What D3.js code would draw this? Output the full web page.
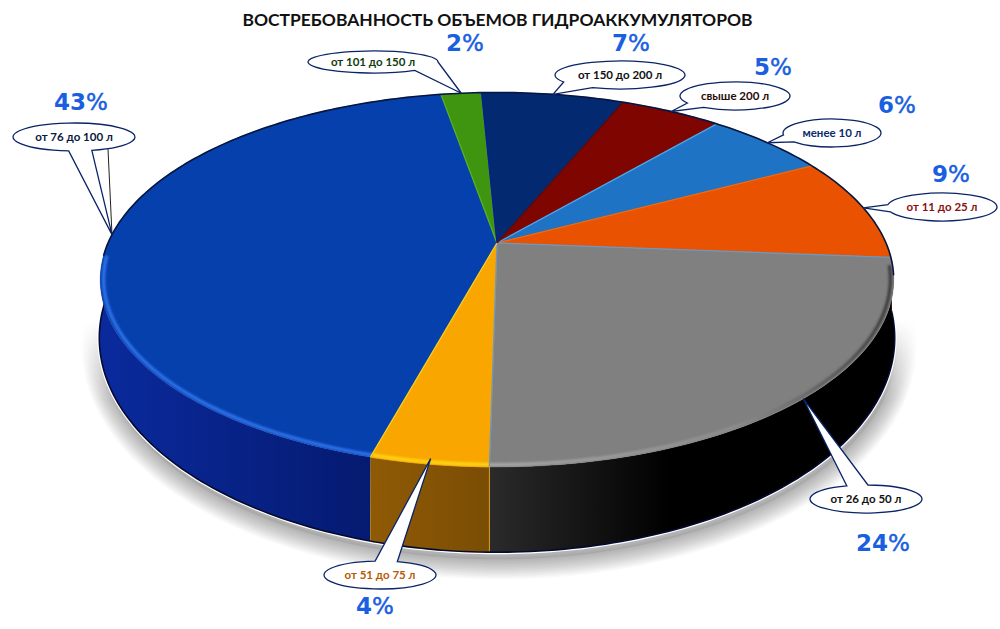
<!DOCTYPE html>
<html>
<head>
<meta charset="utf-8">
<script src="https://cdnjs.cloudflare.com/ajax/libs/d3/7.8.5/d3.min.js"></script>
<style>
html, body { margin: 0; padding: 0; background: #fff; }
svg { display: block; }
</style>
</head>
<body>
<div id="graph"></div>
<script>
var SVGwidth = 1000,
	SVGheight = 629;

var title = "ВОСТРЕБОВАННОСТЬ ОБЪЕМОВ ГИДРОАККУМУЛЯТОРОВ";

// data, clockwise
var categories = ["менее 10 л", "от 11 до 25 л", "от 26 до 50 л", "от 51 до 75 л", "от 76 до 100 л", "от 101 до 150 л", "от 150 до 200 л", "свыше 200 л"];
var values = [6, 9, 24, 4, 43, 2, 7, 5];

// styles, same order
var faceColors = ["#1f73c4", "#e85200", "#808080", "#f9a600", "#0640ac", "#3f9410", "#032a70", "#7f0600"];
var edgeColors = ["#45aaf5", "#f06a10", "#6f97bf", "#6f97bf", "#ffd21a", "#5ab020", "#0a1a9a", "#5a0a10"];
var rimColors = ["#3f8fe0", "#f07a20", "url(#grayRim)", "#ffd414", "#2f72ea", "#5ab020", "#103a90", "#a02010"];
var wallStops = [["#14508c", "#14508c"], ["#8a3000", "#8a3000"], ["#2b2b2b", "#000000"], ["#8f5a05", "#7a4d05"], ["#0a2a9c", "#051a70"], ["#205008", "#205008"], ["#021a48", "#021a48"], ["#4a0300", "#4a0300"]];
var textColors = ["#0b2a6b", "#8a1010", "#111111", "#b85a00", "#0a1a40", "#0f3d0f", "#111111", "#2a0a0a"];

// callout boxes: x, y, rx, ry, gap of the tail on the ellipse in degrees
var calloutBox = [
	[832, 133, 49, 14, 141, 172],
	[942, 207, 55, 14, 160, 190],
	[866, 499, 56, 14, 250, 272],
	[380, 575, 56, 14, 265, 288],
	[74, 137, 61, 14, 73, 95],
	[373, 62, 65, 11, 0, 50],
	[620, 75, 65, 14, 115, 150],
	[735, 96, 55, 14, 125, 150]
];
var percentPos = [[897, 105], [951, 174], [883, 543], [375, 606], [81, 102], [465, 43], [631, 43], [773, 67]];

var rad = Math.PI / 180;
var tilt = 0.196; // perspective of the disc

var svg = d3.select("div#graph")
	.append("svg")
	.attr("width", SVGwidth)
	.attr("height", SVGheight);

var defs = svg.append("defs");
defs.append("filter").attr("id", "rimBlur")
	.attr("filterUnits", "userSpaceOnUse")
	.attr("x", 0).attr("y", 0).attr("width", SVGwidth).attr("height", SVGheight)
	.append("feGaussianBlur").attr("stdDeviation", 0.8);

var grayRim = defs.append("linearGradient").attr("id", "grayRim")
	.attr("gradientUnits", "userSpaceOnUse")
	.attr("x1", 488).attr("x2", 895).attr("y1", 0).attr("y2", 0);
grayRim.append("stop").attr("offset", 0).attr("stop-color", "#a8a8a8");
grayRim.append("stop").attr("offset", 0.6).attr("stop-color", "#8e8e8e");
grayRim.append("stop").attr("offset", 1).attr("stop-color", "#3a3a3a");

var shadowFade = defs.append("linearGradient").attr("id", "shadowFade")
	.attr("gradientUnits", "userSpaceOnUse")
	.attr("x1", 0).attr("x2", 0).attr("y1", 320).attr("y2", 400);
shadowFade.append("stop").attr("offset", 0).attr("stop-color", "#fff").attr("stop-opacity", 1);
shadowFade.append("stop").attr("offset", 1).attr("stop-color", "#fff").attr("stop-opacity", 0);

// top face and bottom edge of the disc, unit coordinates through linear scales
var topX = d3.scaleLinear().domain([-1, 1]).range([497 - 389, 497 + 389]),
	topY = d3.scaleLinear().domain([-1, 1]).range([243 - 180, 243 + 180]),
	botX = d3.scaleLinear().domain([-1, 1]).range([497 - 390, 497 + 390]),
	botY = d3.scaleLinear().domain([-1, 1]).range([296 - 206, 296 + 206]);

function project(a, r, sx, sy) {
	var w = 1 + tilt * r * Math.cos(a);
	return [sx(r * Math.sin(a) / w), sy(-r * Math.cos(a) / w)];
}
function topPt(a, r) { return project(a, r === undefined ? 1 : r, topX, topY); }
function botPt(a) { return project(a, 1, botX, botY); }

function steps(a0, a1) {
	var n = Math.max(2, Math.ceil(Math.abs(a1 - a0) / (rad * 1)));
	return d3.range(n + 1).map(function (i) { return a0 + (a1 - a0) * i / n; });
}

var line = d3.line();

var pie = d3.pie().sort(null).value(function (d) { return d; })
	.startAngle(40.5 * rad).endAngle(400.5 * rad);
var arcs = pie(values);

// soft shadow under the disc, stacked translucent outlines
var outline = line(steps(0, 2 * Math.PI).map(botPt)) + "Z";
var shadow = svg.append("g")
	.attr("transform", "translate(2,7)");
shadow.append("path")
	.attr("d", outline)
	.attr("fill", "#000")
	.attr("fill-opacity", 0.06);
d3.range(40, 0, -3).forEach(function (w) {
	shadow.append("path")
		.attr("d", outline)
		.attr("fill", "none")
		.attr("stroke", "#000")
		.attr("stroke-opacity", 0.022)
		.attr("stroke-width", w);
});
svg.append("rect")
	.attr("x", 0).attr("y", 0)
	.attr("width", SVGwidth).attr("height", 320)
	.attr("fill", "#fff");
svg.append("rect")
	.attr("x", 0).attr("y", 320)
	.attr("width", SVGwidth).attr("height", 80)
	.attr("fill", "url(#shadowFade)");
svg.append("path")
	.attr("d", outline)
	.attr("fill", "#fff")
	.attr("stroke", "#fff")
	.attr("stroke-width", 4);

// walls
arcs.forEach(function (d, i) {
	var id = "wall" + i;
	var a = topPt(d.startAngle)[0], b = topPt(d.endAngle)[0];
	var x1 = Math.min(a, b), x2 = Math.max(a, b);
	if (i === 2) { x1 = 488; x2 = 670; }
	if (i === 4) { x1 = 105; x2 = 375; }
	var g = defs.append("linearGradient").attr("id", id)
		.attr("gradientUnits", "userSpaceOnUse")
		.attr("x1", x1).attr("x2", x2).attr("y1", 0).attr("y2", 0);
	g.append("stop").attr("offset", 0).attr("stop-color", wallStops[i][0]);
	g.append("stop").attr("offset", 1).attr("stop-color", wallStops[i][1]);
	var aa = steps(d.startAngle, d.endAngle);
	var pts = aa.map(function (t) { return topPt(t); }).concat(aa.slice().reverse().map(botPt));
	svg.append("path")
		.attr("class", "wall")
		.attr("d", line(pts) + "Z")
		.attr("fill", "url(#" + id + ")")
		.attr("stroke", i === 3 ? "#d89a20" : "none")
		.attr("stroke-width", i === 3 ? 1 : 0);
});

// dark bottom edge of the wall
svg.append("path")
	.attr("d", line(steps(94 * rad, 280 * rad).map(botPt)))
	.attr("fill", "none")
	.attr("stroke", "#050a30")
	.attr("stroke-width", 1.6);

// top face
arcs.forEach(function (d, i) {
	var pts = [topPt(0, 0)].concat(steps(d.startAngle, d.endAngle).map(function (t) { return topPt(t); }));
	svg.append("path")
		.attr("class", "slice")
		.attr("d", line(pts) + "Z")
		.attr("fill", faceColors[i])
		.attr("stroke", faceColors[i])
		.attr("stroke-width", 0.5);
});

// light bevel on the front of the rim
var rimClip = defs.append("clipPath").attr("id", "faceClip");
rimClip.append("path").attr("d", line(steps(0, 2 * Math.PI).map(function (t) { return topPt(t); })) + "Z");
var rimLayer = svg.append("g").attr("clip-path", "url(#faceClip)");
arcs.forEach(function (d, i) {
	var a0 = Math.max(d.startAngle, 97 * rad), a1 = Math.min(d.endAngle, 266 * rad);
	if (a1 <= a0) return;
	rimLayer.append("path")
		.attr("d", line(steps(a0, a1).map(function (t) { return topPt(t, 0.992); })))
		.attr("fill", "none")
		.attr("stroke", rimColors[i])
		.attr("stroke-width", 3.4)
		.attr("filter", "url(#rimBlur)");
});

// separators between the slices
arcs.forEach(function (d, i) {
	svg.append("path")
		.attr("d", line([topPt(0, 0), topPt(d.startAngle)]))
		.attr("stroke", edgeColors[i])
		.attr("stroke-width", 1.3);
});

// outline along the back of the disc
svg.append("path")
	.attr("d", line(steps(-94 * rad, 100 * rad).map(function (t) { return topPt(t); })))
	.attr("fill", "none")
	.attr("stroke", "#071640")
	.attr("stroke-width", 1.6);

// title
svg.append("text")
	.attr("x", 497.5)
	.attr("y", 26)
	.attr("text-anchor", "middle")
	.attr("font-family", "Lato, 'Open Sans', sans-serif")
	.attr("font-weight", 700)
	.attr("font-size", 17)
	.attr("textLength", 510)
	.attr("lengthAdjust", "spacingAndGlyphs")
	.attr("fill", "#111")
	.text(title);

// callouts, tail points at the middle of the slice
arcs.forEach(function (d, i) {
	var b = calloutBox[i],
		cx = b[0], cy = b[1], rx = b[2], ry = b[3];
	var tip = topPt((d.startAngle + d.endAngle) / 2, i === 3 ? 0.98 : 1);
	function onEllipse(deg) {
		return [cx + rx * Math.cos(deg * rad), cy + ry * Math.sin(deg * rad)];
	}
	var from = onEllipse(b[5]), to = onEllipse(b[4]);
	var p = "M" + from + "A" + rx + "," + ry + " 0 1 1 " + to + "L" + tip + "Z";
	svg.append("path")
		.attr("d", p)
		.attr("fill", "#fff")
		.attr("stroke", "#0a2468")
		.attr("stroke-width", 1.3)
		.attr("stroke-linejoin", "miter");
	svg.append("text")
		.attr("x", cx)
		.attr("y", cy + 4)
		.attr("text-anchor", "middle")
		.attr("font-family", "Lato, 'Open Sans', sans-serif")
		.attr("font-weight", 700)
		.attr("font-size", 11.5)
		.attr("fill", textColors[i])
		.text(categories[i]);
});

// second thin line of the largest callout
var bigSlice = arcs[4];
svg.append("path")
	.attr("d", line([[calloutBox[4][0] + 34, calloutBox[4][1] + 12], topPt((bigSlice.startAngle + bigSlice.endAngle) / 2)]))
	.attr("stroke", "#222")
	.attr("stroke-width", 1);

// percent labels
values.forEach(function (v, i) {
	var t = svg.append("text")
		.attr("x", percentPos[i][0])
		.attr("y", percentPos[i][1] + 8)
		.attr("text-anchor", "middle")
		.attr("font-family", "'DejaVu Sans', sans-serif")
		.attr("font-size", 23)
		.attr("fill", "#1a5fe0");
	t.append("tspan").attr("font-weight", 700).text(v);
	t.append("tspan").attr("font-weight", 400).attr("stroke", "#1a5fe0").attr("stroke-width", 0.5).text("%");
});
</script>
</body>
</html>
